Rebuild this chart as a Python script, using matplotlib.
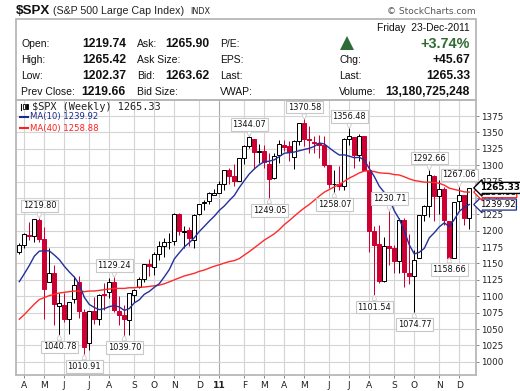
import matplotlib
matplotlib.use("Agg")
import matplotlib.pyplot as plt

# ---------- data ----------
opens = [1167,1178,1194,1192,1217,1188,1122,1136,1085,1087,1065,1096,1121,1076,1029,1078,1065,1103,1107,1122,1077,1071,1064,1102.6,1114,1126,1149,1144,1165,1176,1183,1185,1226,1198,1201,1186,1225,1242,1245,1254,1257,1272,1293,1283,1276,1311,1329,1340,1320,1322,1302,1281,1315,1330,1329,1313,1337,1365,1340,1336,1334,1331,1300,1271,1272,1268,1340,1343,1316,1344,1292,1200,1179,1124,1177,1173,1154,1216,1136,1131,1158,1224,1238,1284,1253,1263,1215,1159,1245,1255,1219.74]
highs = [1181,1195.8,1214,1217.5,1219.80,1206,1173.6,1148,1105,1105.6,1092,1131,1131.2,1080,1078,1099,1103,1120,1128,1129.24,1100,1086,1105,1110.9,1129,1149,1157,1167.7,1184.4,1189.4,1196.1,1227,1227,1207,1205,1225,1240.4,1247,1259,1263,1276,1293.3,1296,1302,1311,1330,1344.07,1340,1332.3,1330,1319,1319,1337.9,1339,1337,1338,1364.6,1370.58,1359.4,1345,1346,1345,1300,1292,1298,1341,1356.48,1343,1347,1344,1307,1207,1208,1190,1230.71,1178,1220,1220,1195,1171,1224.7,1239,1292.66,1285,1277,1266,1215,1244.3,1267.06,1255,1265.42]
lows = [1165,1174,1186,1183,1183,1065.8,1122,1055.9,1040.78,1060,1042.2,1090,1067,1010.91,1018,1057,1056,1079,1097,1076,1056,1039.70,1040.9,1091,1113,1122,1131,1131.9,1155.7,1159.7,1171.7,1177.7,1194,1173,1176,1173,1224,1232,1241,1254,1257,1262,1271,1268,1276,1302,1326,1294.3,1302.6,1295,1249.05,1279,1304,1321,1306,1294.7,1331.5,1329,1318.5,1318,1311,1297,1265,1258.07,1262,1262,1330,1295,1306,1292,1168,1101.54,1120,1121,1148,1136,1136,1114,1119,1074.77,1158,1215,1221,1215,1226,1209,1158.66,1158.66,1231,1209,1202.37]
closes = [1178.10,1194.37,1192.13,1217.28,1186.69,1110.88,1135.68,1087.69,1089.41,1064.88,1091.60,1117.51,1076.76,1022.58,1077.96,1064.88,1102.66,1101.60,1121.64,1079.25,1071.69,1064.59,1104.51,1109.55,1125.59,1148.67,1146.24,1165.15,1176.19,1183.08,1183.26,1225.85,1199.21,1199.73,1189.40,1224.71,1240.40,1243.91,1256.77,1257.64,1271.50,1293.24,1283.35,1276.34,1310.87,1329.15,1343.01,1319.88,1321.15,1304.28,1279.21,1313.80,1332.41,1328.17,1319.68,1337.38,1363.61,1340.20,1337.77,1333.27,1331.10,1300.16,1270.98,1271.50,1268.45,1339.67,1343.80,1316.14,1345.02,1292.28,1199.38,1178.81,1123.53,1176.80,1173.97,1154.23,1216.01,1136.43,1131.42,1155.46,1224.58,1238.25,1285.09,1253.23,1263.85,1215.65,1158.67,1244.28,1255.19,1219.66,1265.33]
ma10 = [1122.3,1134.3,1146.9,1161.1,1168.8,1169.5,1169.2,1163.0,1155.9,1145.8,1137.1,1129.4,1117.9,1098.4,1087.5,1082.9,1079.6,1081.0,1084.2,1085.7,1083.7,1078.4,1081.2,1089.9,1094.6,1103.0,1107.4,1113.7,1119.2,1129.6,1140.7,1156.9,1166.3,1175.3,1181.7,1189.3,1198.8,1206.6,1214.7,1222.1,1231.0,1237.7,1246.1,1253.8,1265.9,1276.4,1286.6,1294.2,1300.7,1305.3,1306.1,1308.2,1313.1,1318.2,1319.1,1320.0,1322.0,1324.0,1325.7,1328.6,1333.8,1332.4,1326.3,1320.6,1315.5,1315.7,1313.7,1311.3,1312.0,1307.9,1294.8,1282.6,1267.9,1258.4,1249.0,1230.4,1217.6,1199.7,1178.3,1164.6,1167.1,1173.1,1189.2,1196.9,1205.9,1212.0,1206.3,1217.1,1229.5,1235.9,1239.92]
ma40 = [1065,1072,1080,1088,1095,1098,1101,1103,1105,1106,1107,1108,1108,1107,1108,1108,1109,1110,1111,1112,1112,1112,1113,1113,1114,1114,1115,1116,1117,1119,1122,1125,1128,1131,1133,1135,1138,1140,1143,1145.8,1148.1,1150.6,1152.9,1154.4,1157.5,1162.9,1168.1,1173.9,1179.7,1185.7,1190.4,1195.3,1201.7,1209.3,1215.4,1222.2,1228.7,1234.7,1240.1,1246.4,1252.9,1258.8,1262.9,1267.0,1270.5,1275.3,1280.3,1284.0,1288.2,1291.0,1291.4,1290.2,1288.3,1287.7,1287.3,1285.6,1285.0,1282.3,1279.1,1276.6,1275.4,1274.05,1274.1,1273.5,1272.3,1269.5,1264.9,1263.0,1261.3,1259.2,1258.88]

price_ticks = list(range(1000, 1376, 25))
month_idx = [1,5,9,14,18,23,27,31,36,40,45,49,53,57,62,66,70,75,79,84,88]
month_labels = ["A","M","J","J","A","S","O","N","D","11","F","M","A","M","J","J","A","S","O","N","D"]
peak_idx = [4,8,13,19,21,46,50,57,63,66,71,74,79,82,86,88]
peak_val = [1219.80,1040.78,1010.91,1129.24,1039.70,1344.07,1249.05,1370.58,1258.07,1356.48,1101.54,1230.71,1074.77,1292.66,1158.66,1267.06]
peak_up = [1,0,0,1,0,1,0,1,0,1,0,1,0,1,0,1]
rows_left = ["Open:","High:","Low:","Prev Close:"]
rows_left_val = ["1219.74","1265.42","1202.37","1219.66"]
rows_mid = ["Ask:","Ask Size:","Bid:","Bid Size:"]
rows_mid_val = ["1265.90","","1263.62",""]
rows_third = ["P/E:","EPS:","Last:","VWAP:"]
rows_right = ["Chg:","Last:","Volume:"]
rows_right_val = ["+45.67","1265.33","13,180,725,248"]

# ---------- figure ----------
W, H = 520, 391
fig = plt.figure(figsize=(W/100, H/100), dpi=100, facecolor="white")
L, R, T, B = 16, 476, 100, 375
ax = fig.add_axes([L/W, 1-B/H, (R-L)/W, (B-T)/H])
ax.set_xlim((L-19.3)/5, (R-19.3)/5)
ax.set_ylim(1375-(B-116)/0.6555, 1375+(116-T)/0.6555)

GRID = "#d4d4d4"
ax.set_yticks(price_ticks)
ax.set_xticks(month_idx)
ax.set_xticklabels(month_labels, fontsize=6.6, color="#222222", fontfamily="DejaVu Sans")
for t, lab in zip(ax.get_xticklabels(), month_labels):
    if lab == "11":
        t.set_fontweight("bold")
ax.yaxis.tick_right()
ax.tick_params(axis="y", labelsize=6.3, length=2, width=0.7, color="#888888", pad=1.5, labelcolor="#222222")
ax.tick_params(axis="x", length=2.5, width=0.7, color="#888888", pad=1.5)
ax.grid(True, color=GRID, lw=0.8)
ax.set_axisbelow(True)
ax.get_xgridlines()[month_labels.index("11")].set_color("#a8a8a8")
for s in ax.spines.values():
    s.set_color("#b8b8b8")
    s.set_linewidth(1.3)

RED = "#cc0033"
xs = list(range(len(closes)))
for i in xs:
    down = closes[i] < opens[i]
    c = RED if down else "black"
    ax.vlines(i, lows[i], highs[i], color=c, lw=0.72, zorder=2)
    lo, hi = min(opens[i], closes[i]), max(opens[i], closes[i])
    ax.bar(i, hi-lo, bottom=lo, width=0.84, facecolor=RED if down else "white",
           edgecolor=c, lw=0.72, zorder=3)
ax.plot(xs, ma40, color="#ff2a2a", lw=1.0, zorder=4)
ax.plot(xs, ma10, color="#23309a", lw=1.0, zorder=5)

for i, v, up in zip(peak_idx, peak_val, peak_up):
    ax.annotate(f"{v:.2f}", xy=(i, v), xytext=(0, 8.5 if up else -8.5), textcoords="offset points",
                ha="center", va="center", fontsize=5.9, color="#111111", zorder=8,
                bbox=dict(boxstyle="square,pad=0.22", fc="white", ec="#c8c8c8", lw=0.8),
                arrowprops=dict(arrowstyle="wedge,tail_width=0.45,shrink_factor=1", fc="white", ec="#c8c8c8",
                                lw=0.6, shrinkA=0, shrinkB=0))

tr = ax.get_yaxis_transform()
for v, col, lw, fw in [(1239.92, "#1c2a8c", 0.9, "normal"), (1258.88, "#ff2020", 0.9, "normal"), (closes[-1], "black", 1.0, "bold")]:
    ax.annotate(f"{v:.2f}", xy=(1.0, v), xycoords=tr, xytext=(2.6, 0), textcoords="offset points",
                ha="left", va="center", fontsize=6.3, color="black", fontweight=fw, zorder=9,
                bbox=dict(boxstyle="larrow,pad=0.12", fc="white", ec=col, lw=lw), annotation_clip=False)

# ---------- pixel overlay for header ----------
ov = fig.add_axes([0, 0, 1, 1], zorder=10)
ov.set_xlim(0, W); ov.set_ylim(H, 0); ov.axis("off"); ov.patch.set_alpha(0)
A = "Liberation Sans"
box = plt.Rectangle((L, 19), R-L, 81, fc="none", ec="#b8b8b8", lw=1.3)
ov.add_patch(box)
ov.text(16, 11, "$SPX", family=A, weight="bold", size=9.6, va="center", color="#111111")
ov.text(53, 11, "(S&P 500 Large Cap Index)", family=A, size=7.7, va="center", color="#222222")
ov.text(190, 11.5, "INDX", family="DejaVu Sans", size=5.9, va="center", color="#222222")
ov.text(476, 11, "\u00a9 StockCharts.com", family="DejaVu Sans", size=6.5, va="center", ha="right", color="#555555")

rows_y = [44, 60, 76, 92]
for y, a, av, b, bv, c in zip(rows_y, rows_left, rows_left_val, rows_mid, rows_mid_val, rows_third):
    ov.text(21, y, a, family=A, size=7.5, va="center", color="#111111")
    ov.text(126, y, av, family=A, size=8.7, weight="bold", va="center", ha="right", color="#111111")
    ov.text(137, y, b, family=A, size=7.5, va="center", color="#111111")
    if bv:
        ov.text(209, y, bv, family=A, size=8.7, weight="bold", va="center", ha="right", color="#111111")
    ov.text(220, y, c, family=A, size=7.5, va="center", color="#111111")
ov.text(470, 28, "Friday  23-Dec-2011", family=A, size=7.4, va="center", ha="right", color="#111111")
ov.fill([340, 354, 347], [50, 50, 36], color="#2f6b35", lw=0)
ov.text(470, 43.5, "+3.74%", family=A, size=10.4, weight="bold", va="center", ha="right", color="#2f6b35")
for y, a, av in zip(rows_y[1:], rows_right, rows_right_val):
    ov.text(339, y, a, family=A, size=7.5, va="center", color="#111111")
    ov.text(470, y, av, family=A, size=8.7, weight="bold", va="center", ha="right", color="#111111")

ov.text(32, 107, "$SPX (Weekly) 1265.33", family="DejaVu Sans Mono", size=7.4, va="center", color="#222222")
ov.plot([21, 21], [104, 110], color="black", lw=0.8)
ov.bar(24, 5, bottom=104, width=2.4, fc="white", ec="black", lw=0.6)
ov.bar(27, 5, bottom=104, width=2.4, fc="black", ec="black", lw=0.6)
ov.plot([20, 28], [117, 117], color="#1c2a8c", lw=1.5)
ov.text(30, 117, "MA(10) 1239.92", family="DejaVu Sans", size=6.1, va="center", color="#1c2a8c")
ov.plot([20, 28], [128, 128], color="#ff2020", lw=1.5)
ov.text(30, 128, "MA(40) 1258.88", family="DejaVu Sans", size=6.1, va="center", color="#ff2020")

fig.savefig("out.png", dpi=100)
